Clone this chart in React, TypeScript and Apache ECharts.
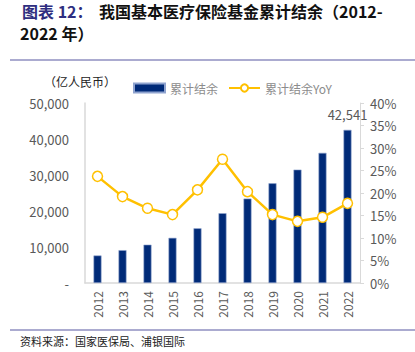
import React, { useEffect, useRef } from "react";
import * as echarts from "echarts";

const years = ["2012", "2013", "2014", "2015", "2016", "2017", "2018", "2019", "2020", "2021", "2022"];
const balance = [7644, 9116, 10645, 12543, 15200, 19386, 23440, 27697, 31500, 36156, 42541];
const yoy = [23.7, 19.2, 16.6, 15.2, 20.7, 27.5, 20.3, 15.2, 13.7, 14.6, 17.7];
const leftTicks = [0, 10000, 20000, 30000, 40000, 50000];

const FONT = "'Noto Sans CJK SC', 'Noto Sans', sans-serif";

export default function App() {
  const ref = useRef<HTMLDivElement>(null);
  useEffect(() => {
    if (!ref.current) return;
    const chart = echarts.init(ref.current, undefined, { renderer: "svg" });
    chart.setOption({
      animation: false,
      backgroundColor: "#ffffff",
      textStyle: { fontFamily: FONT },
      grid: { left: 85, right: 55, top: 103, bottom: 69 },
      legend: {
        left: 128,
        top: 77,
        itemWidth: 31,
        itemHeight: 9,
        itemGap: 10,
        textStyle: { color: "#8c8c8c", fontSize: 12, fontFamily: FONT },
        data: [
          { name: "累计结余", icon: "rect" },
          { name: "累计结余YoY" },
        ],
      },
      graphic: [
        {
          type: "text",
          left: 22,
          top: 2,
          style: { text: "图表 12：", fill: "#2E2E80", font: `bold 16px ${FONT}`, lineHeight: 18 },
        },
        {
          type: "text",
          left: 99,
          top: 2,
          style: { text: "我国基本医疗保险基金累计结余（2012-", fill: "#111111", font: `bold 16px ${FONT}`, lineHeight: 18 },
        },
        {
          type: "text",
          left: 20,
          top: 24,
          style: { text: "2022 年）", fill: "#111111", font: `bold 16px ${FONT}`, lineHeight: 18 },
        },
        {
          type: "line",
          shape: { x1: 10, y1: 60, x2: 415, y2: 60 },
          style: { stroke: "#8f8fc0", lineWidth: 1.5 },
        },
        {
          type: "text",
          left: 44,
          top: 75,
          style: { text: "（亿人民币）", fill: "#222222", font: `12px ${FONT}` },
        },
        {
          type: "line",
          shape: { x1: 10, y1: 330, x2: 415, y2: 330 },
          style: { stroke: "#8f8fc0", lineWidth: 1.5 },
        },
        {
          type: "text",
          left: 20,
          top: 335,
          style: { text: "资料来源：国家医保局、浦银国际", fill: "#222222", font: `11px ${FONT}` },
        },
      ],
      xAxis: {
        type: "category",
        data: years,
        axisLine: { show: true, lineStyle: { color: "#d9d9d9", width: 1.5 } },
        axisTick: { show: false },
        axisLabel: { rotate: 90, color: "#595959", fontSize: 12, margin: 8 },
      },
      yAxis: [
        {
          type: "value",
          min: 0,
          max: 50000,
          interval: 10000,
          splitLine: { show: false },
          axisLine: { show: true, lineStyle: { color: "#d9d9d9", width: 1.5 } },
          axisTick: { show: false },
          axisLabel: {
            color: "#595959",
            fontSize: 13,
            margin: 16,
            formatter: (v: number) => (v === leftTicks[0] ? "-" : v.toLocaleString("en-US")),
          },
        },
        {
          type: "value",
          min: 0,
          max: 40,
          interval: 5,
          splitLine: { show: false },
          axisLine: { show: true, lineStyle: { color: "#d9d9d9", width: 1 } },
          axisTick: { show: true, length: 4, lineStyle: { color: "#d9d9d9" } },
          axisLabel: { color: "#595959", fontSize: 13, margin: 10, formatter: "{value}%" },
        },
      ],
      series: [
        {
          name: "累计结余",
          type: "bar",
          data: balance,
          barWidth: 8,
          itemStyle: { color: "#002A78", borderColor: "#8fa3cf", borderWidth: 0.6 },
          label: {
            show: true,
            position: "top",
            distance: 9,
            color: "#595959",
            fontSize: 13,
            formatter: (p: any) => (p.dataIndex === balance.length - 1 ? p.value.toLocaleString("en-US") : ""),
          },
        },
        {
          name: "累计结余YoY",
          type: "line",
          yAxisIndex: 1,
          data: yoy,
          symbol: "circle",
          symbolSize: 10,
          lineStyle: { color: "#FFC000", width: 2.5 },
          itemStyle: { color: "#ffffff", borderColor: "#FFC000", borderWidth: 1.5 },
        },
      ],
    });
    return () => chart.dispose();
  }, []);
  return <div ref={ref} style={{ width: 415, height: 352, position: "absolute", left: 0, top: 0 }} />;
}
